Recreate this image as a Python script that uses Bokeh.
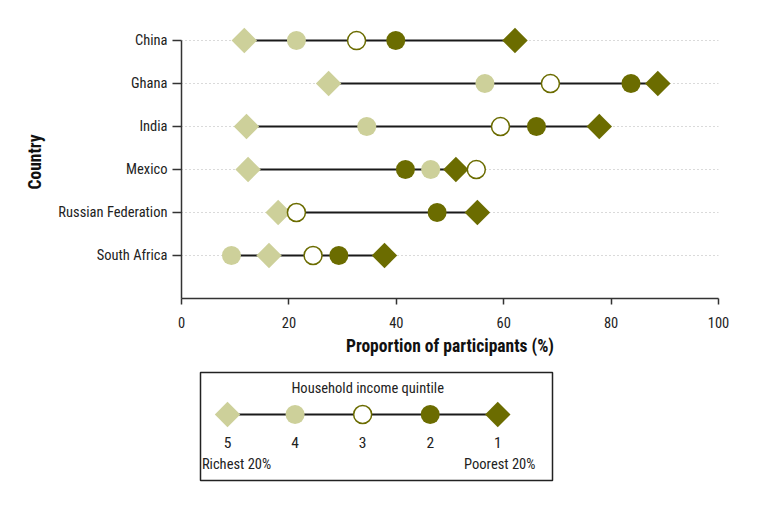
import numpy as np
from bokeh.plotting import figure
from bokeh.layouts import column
from bokeh.models import Range1d, FixedTicker, ColumnDataSource
from bokeh.core.properties import value
from bokeh.embed import file_html
from bokeh.resources import INLINE

# ---- data ----
countries = ["China", "Ghana", "India", "Mexico", "Russian Federation", "South Africa"]
q5_richest = [11.7, 27.4, 12.1, 12.4, 18.0, 16.3]
q4 = [21.4, 56.5, 34.5, 46.4, 21.3, 9.3]
q3 = [32.6, 68.7, 59.4, 54.9, 21.4, 24.5]
q2 = [39.9, 83.7, 66.1, 41.7, 47.6, 29.3]
q1_poorest = [62.1, 88.7, 77.8, 51.1, 55.1, 37.8]
x_ticks = [0, 20, 40, 60, 80, 100]
legend_numbers = ["5", "4", "3", "2", "1"]
legend_title = "Household income quintile"
legend_ends = ["Richest 20%", "Poorest 20%"]

FONT = "'Roboto Condensed', 'DejaVu Sans Condensed', Roboto, sans-serif"
LIGHT = "#cdd09a"
DARK = "#6b6c00"
LINE = "#1a1a1a"
AXIS = "#333333"

n = len(countries)
ys = [n - i for i in range(n)]
allv = np.array([q5_richest, q4, q3, q2, q1_poorest])
src = ColumnDataSource(dict(
    y=ys, q5=q5_richest, q4=q4, q3=q3, q2=q2, q1=q1_poorest,
    lo=allv.min(axis=0), hi=allv.max(axis=0)))

p = figure(width=750, height=360, output_backend="svg", toolbar_location=None,
           x_range=Range1d(0, 100), y_range=Range1d(0, n + 0.35),
           min_border_left=181, min_border_right=32, min_border_top=25,
           min_border_bottom=62, frame_align=False)
p.outline_line_color = None
p.background_fill_color = "white"
p.border_fill_color = "white"

p.xgrid.visible = False
p.ygrid.ticker = FixedTicker(ticks=ys)
p.ygrid.grid_line_color = "#b5b5b5"
p.ygrid.grid_line_dash = "1 3"
p.ygrid.grid_line_width = 1

p.segment(x0="lo", x1="hi", y0="y", y1="y", source=src, line_color=LINE, line_width=2)
sq = dict(marker="square", angle=np.pi / 4, size=18, line_color=None)
p.scatter(x="q5", y="y", source=src, fill_color=LIGHT, **sq)
p.scatter(x="q4", y="y", source=src, marker="circle", size=19, fill_color=LIGHT, line_color=None)
p.scatter(x="q2", y="y", source=src, marker="circle", size=19, fill_color=DARK, line_color=None)
p.scatter(x="q1", y="y", source=src, fill_color=DARK, **sq)
p.scatter(x="q3", y="y", source=src, marker="circle", size=18, fill_color="white",
          line_color=DARK, line_width=1.5)

# axes
p.yaxis.ticker = FixedTicker(ticks=ys)
p.yaxis.major_label_overrides = {y: c for y, c in zip(ys, countries)}
p.yaxis.bounds = (0, n)
p.yaxis.axis_label = "Country"
p.xaxis.ticker = FixedTicker(ticks=x_ticks)
p.xaxis.axis_label = "Proportion of participants (%)"
for ax in (p.xaxis[0], p.yaxis[0]):
    ax.axis_line_color = AXIS
    ax.axis_line_width = 1.5
    ax.major_tick_line_color = AXIS
    ax.major_tick_line_width = 1.5
    ax.major_tick_in = 0
    ax.minor_tick_line_color = None
    ax.major_label_text_font = FONT
    ax.major_label_text_font_size = "14.5px"
    ax.major_label_text_color = "#222222"
    ax.axis_label_text_font = FONT
    ax.axis_label_text_font_size = "17.5px"
    ax.axis_label_text_font_style = "bold"
    ax.axis_label_text_color = "#111111"
p.yaxis.major_tick_out = 9
p.yaxis.major_label_standoff = 5
p.yaxis.axis_label_standoff = 10
p.xaxis.major_tick_out = 6
p.xaxis.major_label_standoff = 12
p.xaxis.axis_label_standoff = 5

# ---- legend panel ----
k = len(legend_numbers)
lx = list(range(k))
leg = figure(width=750, height=142, output_backend="svg", toolbar_location=None,
             x_range=Range1d(-0.4, 4.81), y_range=Range1d(-66, 42),
             x_axis_location=None, y_axis_location=None,
             min_border_left=200, min_border_right=198, min_border_top=12,
             min_border_bottom=22, frame_align=False)
leg.grid.visible = False
leg.outline_line_color = "#222222"
leg.outline_line_width = 1.5
leg.background_fill_color = "white"
leg.border_fill_color = "white"

leg.line(x=[lx[0], lx[-1]], y=[0, 0], line_color=LINE, line_width=2)
leg.scatter(x=[lx[0]], y=[0], fill_color=LIGHT, **sq)
leg.scatter(x=[lx[1]], y=[0], marker="circle", size=19, fill_color=LIGHT, line_color=None)
leg.scatter(x=[lx[2]], y=[0], marker="circle", size=18, fill_color="white",
            line_color=DARK, line_width=1.5)
leg.scatter(x=[lx[3]], y=[0], marker="circle", size=19, fill_color=DARK, line_color=None)
leg.scatter(x=[lx[4]], y=[0], fill_color=DARK, **sq)

tfont = dict(text_font=value(FONT), text_font_size="14.5px", text_color="#222222",
             text_align="center", text_baseline="middle")
leg.text(x=[2], y=[26], text=[legend_title], x_offset=5, **tfont)
leg.text(x=lx, y=[-28] * k, text=legend_numbers, text_font=value(FONT),
         text_font_size="15.5px", text_color="#222222", text_align="center",
         text_baseline="middle")
leg.text(x=[lx[0]], y=[-50], text=[legend_ends[0]], x_offset=9, **tfont)
leg.text(x=[lx[-1]], y=[-50], text=[legend_ends[1]], x_offset=2, **tfont)

layout = column(p, leg, spacing=0)
open("out.html", "w").write(file_html(layout, INLINE))
